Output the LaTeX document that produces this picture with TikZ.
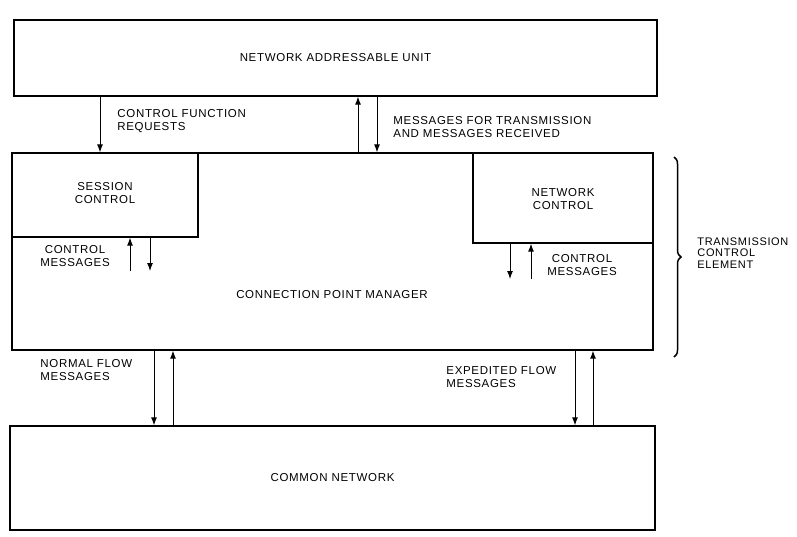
\documentclass[tikz,border=0pt]{standalone}
\usepackage{fontspec}
\setmainfont[LetterSpace=6]{Liberation Sans}
\usetikzlibrary{shapes,arrows,arrows.meta,positioning,calc,decorations.pathreplacing}

\begin{document}
\begin{tikzpicture}[x=1pt, y=-1pt, thick,
        font=\fontsize{11.5}{13}\selectfont,
        unit/.style={rectangle, draw, line width=1.3pt, inner sep=0pt},
        note/.style={align=left, anchor=west, inner sep=0pt},
        flow/.style={draw, line width=1pt, -{Latex[length=8pt, width=6pt]}}]

        \useasboundingbox (0,0) rectangle (797,536);

        % outer boxes
        \node [unit, minimum width=643pt, minimum height=76pt] (nau) at (335.5,58) {NETWORK ADDRESSABLE UNIT};
        \node [unit, minimum width=641pt, minimum height=197pt] (tce) at (332.5,251.5) {};
        \node [unit, minimum width=186pt, minimum height=84pt, anchor=north west] (sc) at (tce.north west) {};
        \node [unit, minimum width=180pt, minimum height=90pt, anchor=north east] (nc) at (tce.north east) {};
        \node [unit, minimum width=645pt, minimum height=104pt] (cn) at (332.5,478) {COMMON NETWORK};

        % texts inside the element
        \node [align=center] (sctext) at (105,193) {SESSION\\CONTROL};
        \node [align=center] (nctext) at (563,199) {NETWORK\\CONTROL};
        \node (cpm) at (332,295) {CONNECTION POINT MANAGER};

        % free ends of the control message arrows
        \coordinate (scend) at (0,271);
        \coordinate (ncend) at (0,279);

        % arrows
        \path [flow] (nau.south -| 100,0) -- (tce.north -| 100,0);
        \path [flow] (tce.north -| 358,0) -- (nau.south -| 358,0);
        \path [flow] (nau.south -| 377,0) -- (tce.north -| 377,0);
        \path [flow] (scend -| 130,0) -- (sc.south -| 130,0);
        \path [flow] (sc.south -| 150,0) -- (scend -| 150,0);
        \path [flow] (nc.south -| 510,0) -- (ncend -| 510,0);
        \path [flow] (ncend -| 531,0) -- (nc.south -| 531,0);
        \path [flow] (tce.south -| 154,0) -- (cn.north -| 154,0);
        \path [flow] (cn.north -| 173,0) -- (tce.south -| 173,0);
        \path [flow] (tce.south -| 575,0) -- (cn.north -| 575,0);
        \path [flow] (cn.north -| 593,0) -- (tce.south -| 593,0);

        % labels
        \node [note] (cfr) at (117,121) {CONTROL FUNCTION\\REQUESTS};
        \node [note] (msg) at (393,127) {MESSAGES FOR TRANSMISSION\\AND MESSAGES RECEIVED};
        \node [align=center, inner sep=0pt] (scmsg) at (75,256) {CONTROL\\MESSAGES};
        \node [align=center, inner sep=0pt] (ncmsg) at (582,265) {CONTROL\\MESSAGES};
        \node [note] (nfm) at (40,370) {NORMAL FLOW\\MESSAGES};
        \node [note] (efm) at (446,377) {EXPEDITED FLOW\\MESSAGES};

        % brace
        \draw [line width=1.5pt, decorate, decoration={brace, amplitude=7pt}] (674,157) -- (674,357) coordinate [midway, xshift=9pt] (tip);
        \node [note, font=\fontsize{11}{11.5}\selectfont] (tcelab) at (697,253) {TRANSMISSION\\CONTROL\\ELEMENT};
    \end{tikzpicture}
\end{document}
